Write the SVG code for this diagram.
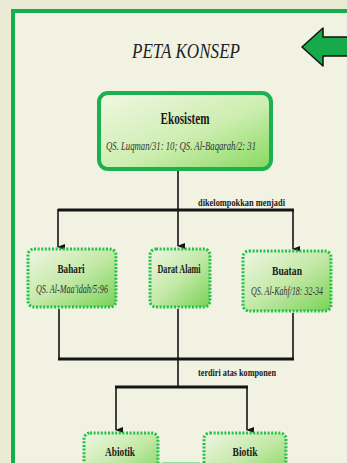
<svg xmlns="http://www.w3.org/2000/svg" width="347" height="463" viewBox="0 0 347 463">
<defs>
<style>
.lbl{font-family:"Liberation Serif","Times New Roman","DejaVu Serif",serif;font-weight:bold;fill:#1a1a1a;text-anchor:middle}
.ref{font-family:"Liberation Serif","Times New Roman","DejaVu Serif",serif;font-style:italic;fill:#333;text-anchor:middle}
.edge{font-family:"Liberation Serif","Times New Roman","DejaVu Serif",serif;font-weight:bold;fill:#1a1a1a;font-size:11px}
.ttl{font-family:"Liberation Serif","Times New Roman","DejaVu Serif",serif;font-style:italic;fill:#222;text-anchor:middle}
.ln{stroke:#151515;fill:none}
.dot{stroke:#22c24a;stroke-width:3;stroke-dasharray:2 1.6;fill:url(#g)}
</style>
<linearGradient id="g" x1="0" y1="0" x2="1" y2="1">
<stop offset="0" stop-color="#eef6e2"/>
<stop offset="0.5" stop-color="#c4e9a8"/>
<stop offset="1" stop-color="#7ad257"/>
</linearGradient>
<linearGradient id="g2" x1="0" y1="0" x2="1" y2="1">
<stop offset="0" stop-color="#f1f7e4"/>
<stop offset="0.55" stop-color="#cdeeb0"/>
<stop offset="1" stop-color="#86d85e"/>
</linearGradient>
<marker id="ah" markerWidth="6" markerHeight="8" refX="3" refY="7" orient="auto" markerUnits="userSpaceOnUse" viewBox="0 0 6 8">
<path d="M0,0 L6,0 L3,8 Z" fill="#151515"/>
</marker>
</defs>
<rect x="0" y="0" width="347" height="463" fill="#e9ebd5"/>
<rect x="13" y="11" width="340" height="460" fill="#f1f2e1" stroke="#14b04e" stroke-width="4"/>
<text class="ttl" x="186" y="58" font-size="22" textLength="108" lengthAdjust="spacingAndGlyphs">PETA KONSEP</text>
<path d="M302,47 L323,28 L323,37 L350,37 L350,56 L323,56 L323,66 Z" fill="#16aa4a" stroke="#111" stroke-width="1.5" stroke-linejoin="round"/>
<g id="connectors">
<line class="ln" x1="178" y1="170" x2="178" y2="246" stroke-width="1.6" marker-end="url(#ah)"/>
<line class="ln" x1="58" y1="210" x2="294" y2="210" stroke-width="3"/>
<line class="ln" x1="58" y1="209" x2="58" y2="247" stroke-width="1.6" marker-end="url(#ah)"/>
<line class="ln" x1="293" y1="209" x2="293" y2="249" stroke-width="1.6" marker-end="url(#ah)"/>
<text class="edge" x="198" y="206" textLength="87" lengthAdjust="spacingAndGlyphs">dikelompokkan menjadi</text>
<line class="ln" x1="59" y1="309" x2="59" y2="359" stroke-width="1.6"/>
<line class="ln" x1="178" y1="309" x2="178" y2="387" stroke-width="1.6"/>
<line class="ln" x1="293" y1="313" x2="293" y2="359" stroke-width="1.6"/>
<line class="ln" x1="58" y1="359" x2="294" y2="359" stroke-width="3"/>
<line class="ln" x1="115" y1="387" x2="248" y2="387" stroke-width="3"/>
<line class="ln" x1="116" y1="386" x2="116" y2="430" stroke-width="1.6" marker-end="url(#ah)"/>
<line class="ln" x1="247" y1="386" x2="247" y2="430" stroke-width="1.6" marker-end="url(#ah)"/>
<text class="edge" x="198" y="376" textLength="78" lengthAdjust="spacingAndGlyphs">terdiri atas komponen</text>
<line x1="162" y1="464" x2="200" y2="464" stroke="#2fcf5a" stroke-width="3"/>
</g>
<g id="ekosistem">
<rect x="99" y="93" width="172" height="76" rx="9" fill="url(#g2)" stroke="#1cb150" stroke-width="4"/>
<text class="lbl" x="185" y="124" font-size="16" textLength="49" lengthAdjust="spacingAndGlyphs">Ekosistem</text>
<text class="ref" x="181" y="150" font-size="12" textLength="150" lengthAdjust="spacingAndGlyphs">QS. Luqman/31: 10; QS. Al-Baqarah/2: 31</text>
</g>
<g id="bahari">
<rect class="dot" x="28" y="249" width="88" height="58" rx="6"/>
<text class="lbl" x="71" y="273" font-size="12" textLength="27" lengthAdjust="spacingAndGlyphs">Bahari</text>
<text class="ref" x="72" y="293" font-size="11.5" textLength="72" lengthAdjust="spacingAndGlyphs">QS. Al-Maa'idah/5:96</text>
</g>
<g id="darat">
<rect class="dot" x="150" y="249" width="60" height="58" rx="6"/>
<text class="lbl" x="179" y="273" font-size="12" textLength="43" lengthAdjust="spacingAndGlyphs">Darat Alami</text>
</g>
<g id="buatan">
<rect class="dot" x="243" y="251" width="88" height="60" rx="6"/>
<text class="lbl" x="287" y="275" font-size="12" textLength="30" lengthAdjust="spacingAndGlyphs">Buatan</text>
<text class="ref" x="287" y="295" font-size="11.5" textLength="72" lengthAdjust="spacingAndGlyphs">QS. Al-Kahf/18: 32-34</text>
</g>
<g id="abiotik">
<rect class="dot" x="84" y="433" width="74" height="50" rx="6"/>
<text class="lbl" x="120" y="456" font-size="12" textLength="30" lengthAdjust="spacingAndGlyphs">Abiotik</text>
</g>
<g id="biotik">
<rect class="dot" x="204" y="433" width="82" height="50" rx="6"/>
<text class="lbl" x="245" y="456" font-size="12" textLength="25" lengthAdjust="spacingAndGlyphs">Biotik</text>
</g>
</svg>
